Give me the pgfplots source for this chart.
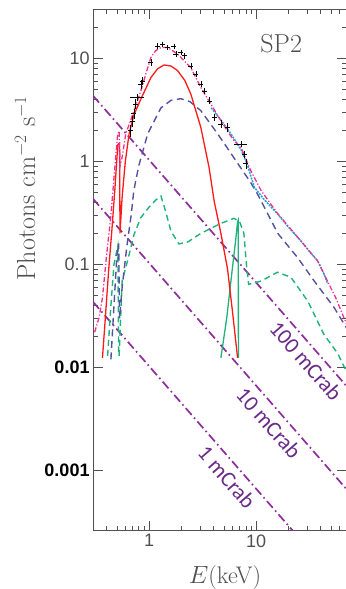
\documentclass[border=0pt]{standalone}
\usepackage{pgfplots}
\pgfplotsset{compat=1.18}
\usepackage{fontspec}
\newfontfamily\lsans{Liberation Sans}
\newfontfamily\carlito{Carlito}
\definecolor{axgray}{HTML}{505050}
\definecolor{mred}{HTML}{FF1A1A}
\definecolor{mpink}{HTML}{F0308C}
\definecolor{mslate}{HTML}{5452A0}
\definecolor{mgreen}{HTML}{1DB37A}
\definecolor{mcyan}{HTML}{1BA6E0}
\definecolor{mpurple}{HTML}{8E2E9C}
\definecolor{lpurple}{HTML}{6A2A88}
\begin{document}
\begin{tikzpicture}
\begin{axis}[
  xmode=log, ymode=log,
  scale only axis, width=253.4pt, height=521.4pt,
  xmin=0.3, xmax=70, ymin=2.6e-4, ymax=30,
  axis line style={axgray, line width=0.9pt},
  every tick/.style={axgray, line width=0.6pt},
  major tick length=10pt, minor tick length=5pt,
  xtick={1,10}, xticklabels={1,10},
  minor xtick={0.3,0.4,0.5,0.6,0.7,0.8,0.9,2,3,4,5,6,7,8,9,20,30,40,50,60,70},
  ytick={0.001,0.01,0.1,1,10},
  yticklabels={{\bfseries\color{black}0.001\hspace{7pt}},{\bfseries\color{black}0.01},0.1,1,10},
  minor ytick={0.02,0.03,0.04,0.05,0.06,0.07,0.08,0.09,0.2,0.3,0.4,0.5,0.6,0.7,0.8,0.9,2,3,4,5,6,7,8,9,20},
  ticklabel style={font=\lsans\fontsize{18}{18}\selectfont, text=axgray},
  xlabel={$E$(keV)},
  xlabel style={at={(axis description cs:0.52,0)}, anchor=base, yshift=-52pt, font=\fontsize{24}{24}\selectfont, text=axgray},
  clip mode=individual,
]
% Crab reference lines
\addplot[mpurple, line width=1.7pt, dash pattern=on 9pt off 3.5pt on 1.6pt off 3.5pt] coordinates {(0.3,4.32) (70,0.00657)};
\addplot[mpurple, line width=1.7pt, dash pattern=on 9pt off 3.5pt on 1.6pt off 3.5pt] coordinates {(0.3,0.432) (70,0.000657)};
\addplot[mpurple, line width=1.7pt, dash pattern=on 9pt off 3.5pt on 1.6pt off 3.5pt] coordinates {(0.3,0.0432) (70,0.0000657)};
% green dashed
\addplot[mgreen, line width=1.4pt, dash pattern=on 6pt off 4pt] coordinates {
(0.41,0.013) (0.44,0.04) (0.47,0.1) (0.51,0.15) (0.52,0.013)};
\addplot[mgreen, line width=1.4pt, dash pattern=on 6pt off 4pt] coordinates {
(0.525,0.013) (0.56,0.069) (0.63,0.109) (0.724,0.195) (0.836,0.284) (1.0,0.36) (1.15,0.42) (1.29,0.46) (1.4,0.35) (1.6,0.21) (1.9,0.158) (2.3,0.165) (3.04,0.2) (4.68,0.25) (6.2,0.28) (7.0,0.26) (7.67,0.2) (8.1,0.1) (8.5,0.064) (11.1,0.069) (15.8,0.084) (21.1,0.075) (30.3,0.044) (42.8,0.021) (57.6,0.0137) (70,0.009)};
% green solid line
\addplot[mgreen, line width=1.3pt] coordinates {
(4.68,0.0124) (5.3,0.03) (5.9,0.08) (6.46,0.18) (6.7,0.26) (6.8,0.27) (6.82,0.0124)};
% slate dashed
\addplot[mslate, line width=1.4pt, dash pattern=on 7pt off 4.5pt] coordinates {
(0.44,0.012) (0.47,0.04) (0.50,0.12) (0.52,0.16) (0.53,0.03) (0.56,0.06) (0.62,0.15) (0.68,0.3) (0.72,0.52) (0.8,0.9) (0.97,1.85) (1.29,3.3) (1.6,3.9) (1.98,4.05) (2.4,3.8) (3.04,3.1) (4.36,1.85) (6.2,1.08) (8.9,0.62) (10.3,0.48) (15.9,0.2) (24.4,0.116) (34.8,0.069) (53.5,0.038) (70,0.024)};
% red disk
\addplot[mred, line width=1.3pt] coordinates {
(0.367,0.0124) (0.39,0.03) (0.42,0.09) (0.45,0.22) (0.48,0.55) (0.51,1.45) (0.53,1.5) (0.535,0.2) (0.56,0.45) (0.60,1.0) (0.65,1.84) (0.72,2.8) (0.836,4.0) (1.04,6.5) (1.2,7.9) (1.38,8.6) (1.6,8.4) (1.84,7.6) (2.15,6.1) (2.45,4.5) (3.04,2.13) (3.63,0.87) (4.05,0.41) (4.68,0.2) (5.4,0.09) (6.0,0.035) (6.7,0.0124)};
% cyan
\addplot[mcyan, line width=1.5pt, dash pattern=on 2pt off 1pt] coordinates {
(3.8,3.3) (4.7,2.5) (5.8,1.85) (7.2,1.3) (8.2,0.95) (9.6,0.56) (12,0.42) (15.9,0.307) (20,0.23) (26.1,0.169) (32,0.13) (37.5,0.108) (42,0.085) (46.5,0.065)};
% total model
\addplot[mpink, line width=1.3pt, dash pattern=on 5pt off 2pt on 1.2pt off 2pt] coordinates {
(0.31,0.022) (0.34,0.03) (0.367,0.0475) (0.40,0.12) (0.44,0.30) (0.48,0.9) (0.507,1.77) (0.525,1.97) (0.535,0.9) (0.56,1.1) (0.606,1.85) (0.724,3.1) (0.836,4.8) (0.95,7.5) (1.04,10.2) (1.15,11.8) (1.29,12.7) (1.49,12.7) (1.84,11) (2.45,8.1) (3.04,5.2) (3.77,3.6) (4.68,2.47) (6.2,1.58) (7.2,1.37) (8.9,0.81) (11.1,0.52) (15.9,0.31) (26.1,0.169) (37.5,0.108) (46.5,0.068) (55,0.048) (62,0.0354) (70,0.026)};
% data
\addplot[black, only marks, mark=+, mark size=2.5pt, line width=0.5pt,
  error bars/.cd, x dir=both, x explicit, y dir=both, y explicit,
  error bar style={line width=0.5pt}, error mark=none]
 table[x index=0, y index=1, x error index=2, y error index=3] {
0.67 1.98 0.02 0.25
0.70 2.47 0.02 0.3
0.72 2.9 0.02 0.3
0.75 3.6 0.02 0.4
0.78 4.17 0.12 0.3
0.837 5.6 0.02 0.6
0.86 6.0 0.02 0.5
1.04 9.1 0.03 0.7
1.2 13.2 0.03 0.8
1.33 13.7 0.04 0.8
1.49 12.7 0.04 0.8
1.7 13.0 0.05 0.8
1.78 11.0 0.05 0.7
1.98 11.4 0.05 0.7
2.12 10.6 0.05 0.7
2.45 8.4 0.06 0.6
2.73 7.0 0.07 0.5
3.04 5.6 0.08 0.4
3.26 4.8 0.08 0.35
3.63 3.86 0.1 0.3
4.05 2.67 0.1 0.2
4.68 2.29 0.15 0.2
5.4 2.13 0.2 0.2
7.2 1.47 1.0 0.1
7.7 1.17 0.15 0.1
8.0 0.95 0.15 0.1
};
% labels
\node[font=\fontsize{26}{26}\selectfont, text=axgray] at (axis cs:17.1,13.8) {SP2};
\node[rotate=90, font=\fontsize{26}{26}\selectfont, text=axgray] at (axis description cs:-0.268,0.657) {Photons cm$^{-2}$ s$^{-1}$};
\node[rotate=-48.9, font=\carlito\fontsize{22}{22}\selectfont, text=lpurple] at (axis cs:29.1,0.01156) {100 mCrab};
\node[rotate=-48.9, font=\carlito\fontsize{22}{22}\selectfont, text=lpurple] at (axis cs:13.1,0.00289) {10 mCrab};
\node[rotate=-48.9, font=\carlito\fontsize{22}{22}\selectfont, text=lpurple] at (axis cs:5.32,0.000865) {1 mCrab};
\end{axis}
\pgfresetboundingbox
\useasboundingbox (-93pt,-58pt) rectangle (252pt,530.4pt);
\end{tikzpicture}
\end{document}
